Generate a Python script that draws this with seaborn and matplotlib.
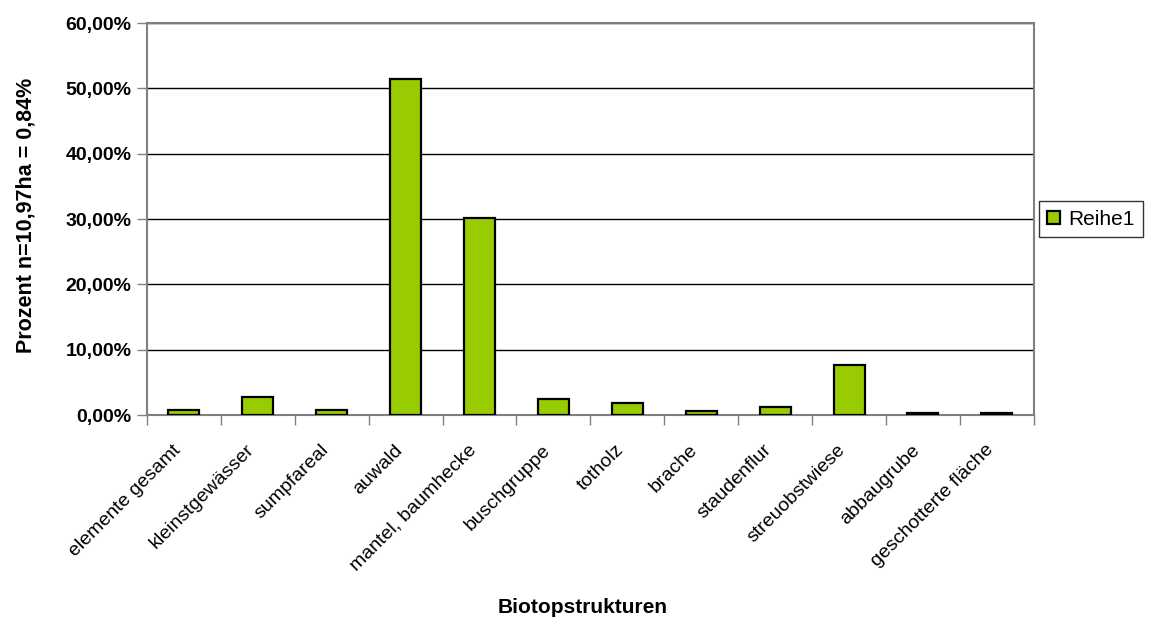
import matplotlib
matplotlib.use("Agg")
import matplotlib.pyplot as plt
import matplotlib.transforms as mtransforms
import seaborn as sns
import numpy as np
import pandas as pd
from matplotlib.ticker import FuncFormatter, FixedLocator

# Biotope structure shares (percent of total area)
categories = [
    "elemente gesamt", "kleinstgewässer", "sumpfareal", "auwald",
    "mantel, baumhecke", "buschgruppe", "totholz", "brache",
    "staudenflur", "streuobstwiese", "abbaugrube", "geschotterte fläche",
]
values = [0.84, 2.8, 0.84, 51.5, 30.1, 2.5, 1.8, 0.6, 1.2, 7.6, 0.25, 0.25]
series_name = "Reihe1"
y_ticks = [0, 10, 20, 30, 40, 50, 60]

sns.set_theme(style="white")
plt.rcParams["font.family"] = ["Liberation Sans", "DejaVu Sans"]
plt.rcParams["text.color"] = "black"
plt.rcParams["xtick.color"] = "black"
plt.rcParams["ytick.color"] = "black"
plt.rcParams["axes.labelcolor"] = "black"

df = pd.DataFrame({"Biotop": categories, "Prozent": values})

fig = plt.figure(figsize=(11.63, 6.26), dpi=100)
ax = fig.add_axes([0.1264, 0.337, 0.7625, 0.626])

sns.barplot(data=df, x="Biotop", y="Prozent", color="#99CC00",
            edgecolor="black", linewidth=1.6, width=0.42, saturation=1,
            label=series_name, ax=ax, zorder=3)

ax.set_ylim(0, 60)
ax.set_xlim(-0.5, len(categories) - 0.5)
ax.yaxis.set_major_locator(FixedLocator(y_ticks))
ax.yaxis.set_major_formatter(FuncFormatter(lambda v, p: f"{v:.2f}%".replace(".", ",")))
ax.grid(axis="y", color="black", linewidth=1.0, zorder=0)
ax.set_axisbelow(True)

for side in ["left", "bottom", "top", "right"]:
    ax.spines[side].set_color("#808080")
    ax.spines[side].set_linewidth(1.5)

ax.tick_params(axis="y", which="major", direction="out", length=7, width=1,
               color="#808080", left=True, labelsize=14, pad=4,
               labelcolor="black")
for lbl in ax.get_yticklabels():
    lbl.set_fontweight("bold")

# category labels under the bars, ticks between them
ax.set_xticks(np.arange(len(categories)))
ax.set_xticklabels(categories, rotation=45, ha="right", rotation_mode="anchor",
                   fontsize=14)
ax.tick_params(axis="x", which="major", length=0, pad=19, labelcolor="black")
shift = mtransforms.ScaledTranslation(-12 / 100, 0, fig.dpi_scale_trans)
for lbl in ax.get_xticklabels():
    lbl.set_transform(lbl.get_transform() + shift)
ax.set_xticks(np.arange(-0.5, len(categories)), minor=True)
ax.tick_params(axis="x", which="minor", direction="out", length=7, width=1,
               color="#808080", bottom=True)

ax.set_xlabel("Biotopstrukturen", fontsize=15, fontweight="bold")
ax.xaxis.set_label_coords(0.4915, -0.467)
ax.set_ylabel("Prozent n=10,97ha = 0,84%", fontsize=15.5, fontweight="bold")
ax.yaxis.set_label_coords(-0.125, 0.51)

leg = ax.legend(loc="center left", bbox_to_anchor=(1.006, 0.5), frameon=True,
                fancybox=False, edgecolor="black", fontsize=15,
                handlelength=0.6, handleheight=0.6, handletextpad=0.4,
                borderpad=0.4, borderaxespad=0)
leg.get_frame().set_linewidth(1.0)

fig.savefig("out.png", dpi=100)
